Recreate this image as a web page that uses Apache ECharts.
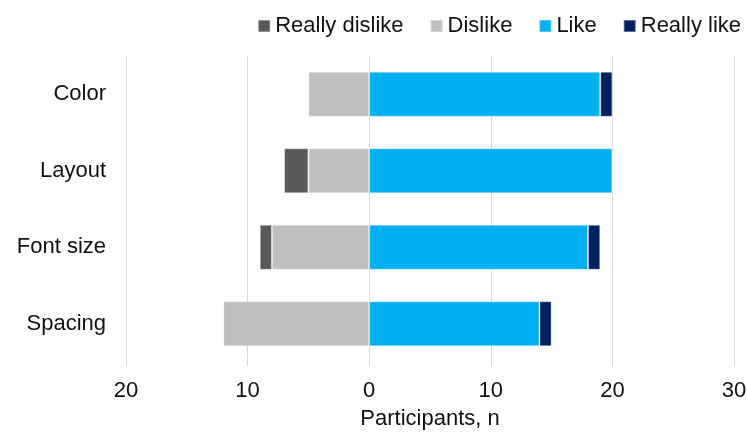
<!DOCTYPE html>
<html>
<head>
<meta charset="utf-8">
<script src="https://cdn.jsdelivr.net/npm/echarts@6/dist/echarts.min.js"></script>
<style>
  html, body { margin: 0; padding: 0; background: #fff; }
  #chart { width: 747px; height: 432px; }
</style>
</head>
<body>
<div id="chart"></div>
<script>
// data
var categories = ["Color", "Layout", "Font size", "Spacing"];
var reallyDislike = [0, 2, 1, 0];
var dislike = [5, 5, 8, 12];
var like = [19, 20, 18, 14];
var reallyLike = [1, 0, 1, 1];
var xTicks = [-20, -10, 0, 10, 20, 30];

var font = "Liberation Sans, Arial, sans-serif";

function neg(arr) {
  return arr.map(function (v) { return -v; });
}

function bar(name, data, color) {
  return {
    name: name,
    type: "bar",
    stack: "total",
    barWidth: 45,
    data: data,
    itemStyle: {
      color: color,
      borderColor: "rgba(255,255,255,0.35)",
      borderWidth: 1
    }
  };
}

var myChart = echarts.init(document.getElementById("chart"));
myChart.setOption({
  animation: false,
  textStyle: { fontFamily: font },
  legend: {
    data: ["Really dislike", "Dislike", "Like", "Really like"],
    right: 1,
    top: 10,
    icon: "rect",
    itemWidth: 12,
    itemHeight: 12,
    itemGap: 26,
    textStyle: { fontSize: 22, color: "#111", fontFamily: font }
  },
  grid: {
    left: 126,
    right: 13,
    top: 56,
    bottom: 70,
    containLabel: false,
    outerBoundsMode: "none"
  },
  xAxis: {
    type: "value",
    min: xTicks[0],
    max: xTicks[xTicks.length - 1],
    interval: 10,
    name: "Participants, n",
    nameLocation: "middle",
    nameGap: 46,
    nameTextStyle: { fontSize: 22, color: "#111", fontFamily: font },
    axisLine: { show: false },
    axisTick: { show: true, length: 4, lineStyle: { color: "#d9d9d9" } },
    axisLabel: {
      fontSize: 22,
      color: "#111",
      margin: 18,
      formatter: function (v) { return Math.abs(v); }
    },
    splitLine: { show: true, lineStyle: { color: "#d9d9d9", width: 1 } }
  },
  yAxis: {
    type: "category",
    data: categories,
    inverse: true,
    axisLine: { show: false },
    axisTick: { show: false },
    axisLabel: {
      fontSize: 22,
      color: "#111",
      align: "right",
      margin: 20
    }
  },
  series: [
    bar("Dislike", neg(dislike), "#bfbfbf"),
    bar("Really dislike", neg(reallyDislike), "#595959"),
    bar("Like", like, "#00b0f0"),
    bar("Really like", reallyLike, "#002060")
  ]
});
</script>
</body>
</html>
